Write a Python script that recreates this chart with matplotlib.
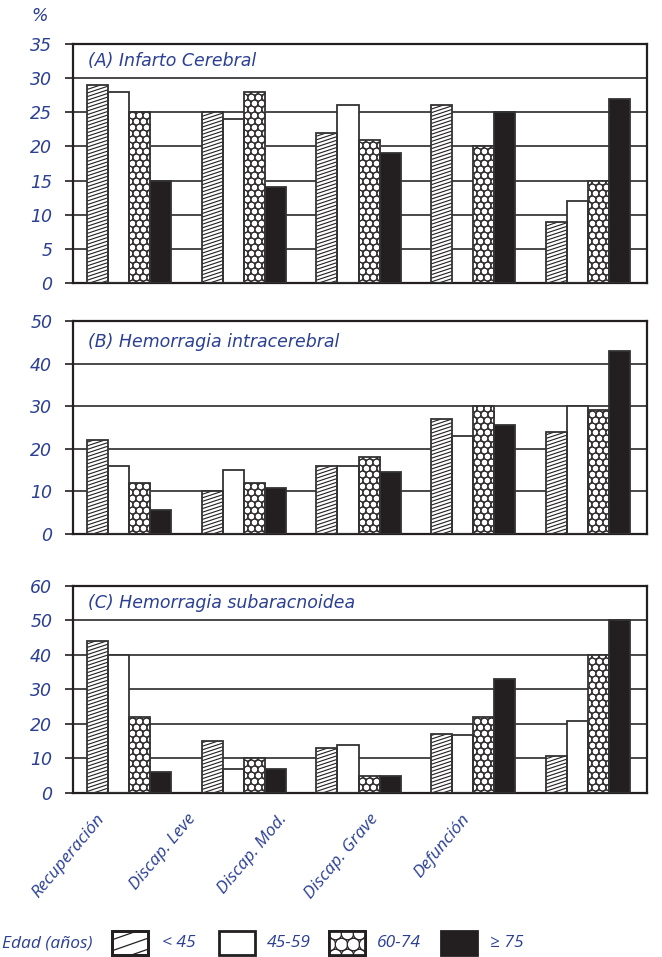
import numpy as np
import matplotlib
matplotlib.use("Agg")
import matplotlib.pyplot as plt
from matplotlib.collections import LineCollection, CircleCollection
from matplotlib.transforms import IdentityTransform, blended_transform_factory
from matplotlib.patches import Rectangle

# ---------------- data ----------------
categories = ["Recuperación", "Discap. Leve", "Discap. Mod.", "Discap. Grave", "Defunción"]
age_groups = ["< 45", "45-59", "60-74", "≥ 75"]
legend_title = "Edad (años)"
panel_titles = ["(A) Infarto Cerebral", "(B) Hemorragia intracerebral",
                "(C) Hemorragia subaracnoidea"]

# (A) Infarto cerebral, % per age group
infarto_lt45 = [29, 25, 22, 26, 9]
infarto_45_59 = [28, 24, 26, np.nan, 12]
infarto_60_74 = [25, 28, 21, 20, 15]
infarto_ge75 = [15, 14, 19, 25, 27]

# (B) Hemorragia intracerebral
hic_lt45 = [22, 10, 16, 27, 24]
hic_45_59 = [16, 15, 16, 23, 30]
hic_60_74 = [12, 12, 18, 30, 29]
hic_ge75 = [5.6, 10.7, 14.6, 25.7, 43]

# (C) Hemorragia subaracnoidea
hsa_lt45 = [44, 15, 13, 17, 10.7]
hsa_45_59 = [40, 7, 14, 16.8, 21]
hsa_60_74 = [22, 10, 5, 22, 40]
hsa_ge75 = [6, 7, 5, 33, 50]

y_max = [35, 50, 60]
y_step = [5, 10, 10]

panels = [
    [infarto_lt45, infarto_45_59, infarto_60_74, infarto_ge75],
    [hic_lt45, hic_45_59, hic_60_74, hic_ge75],
    [hsa_lt45, hsa_45_59, hsa_60_74, hsa_ge75],
]

# ---------------- style ----------------
BLUE = "#2b3f93"
INK = "#231f20"
plt.rcParams["font.family"] = ["Open Sans", "DejaVu Sans"]
plt.rcParams["font.style"] = "italic"
FS = 12.5
WIDE = ["DejaVu Sans"]
FS_WIDE = 12.5

DPI = 100
fig = plt.figure(figsize=(6.62, 9.57), dpi=DPI)

axes_rects = [
    [0.1103, 0.7043, 0.867, 0.2497],
    [0.1103, 0.4420, 0.867, 0.2226],
    [0.1103, 0.1714, 0.867, 0.2163],
]


def add_line_pattern(ax, patch, spacing, slope, lw, zorder):
    bb = patch.get_window_extent()
    x0, y0, x1, y1 = bb.extents
    if not np.all(np.isfinite([x0, y0, x1, y1])) or (y1 - y0) <= 0:
        return
    cmin = y0 - slope * x1
    cmax = y1 - slope * x0
    ks = np.arange(np.floor(cmin / spacing), np.ceil(cmax / spacing) + 1)
    segs = [[(x0, k * spacing + slope * x0), (x1, k * spacing + slope * x1)] for k in ks]
    lc = LineCollection(segs, colors=INK, linewidths=lw,
                        transform=IdentityTransform(), zorder=zorder)
    ax.add_collection(lc, autolim=False)
    lc.set_clip_path(patch)


def add_circle_pattern(ax, patch, ncols, row_h, diam_px, lw, zorder):
    bb = patch.get_window_extent()
    x0, y0, x1, y1 = bb.extents
    if not np.all(np.isfinite([x0, y0, x1, y1])) or (y1 - y0) <= 0:
        return
    sx = (x1 - x0) / ncols
    nrows = int(np.ceil((y1 - y0) / row_h)) + 2
    offs = []
    for r in range(nrows):
        y = y0 + r * row_h
        if r % 2 == 0:
            xs = x0 + sx * (np.arange(ncols) + 0.5)
        else:
            xs = x0 + sx * np.arange(ncols + 1)
        offs.extend([(xx, y) for xx in xs])
    d_pt = diam_px * 72.0 / DPI
    cc = CircleCollection(sizes=[np.pi * (d_pt / 2) ** 2], offsets=offs,
                          offset_transform=IdentityTransform(),
                          facecolors="white", edgecolors=INK, linewidths=lw,
                          zorder=zorder)
    cc.set_transform(IdentityTransform())
    ax.add_collection(cc, autolim=False)
    cc.set_clip_path(patch)


x = np.arange(len(categories))
bw = 0.183
shift = -0.013
faces = ["white", "white", "white", INK]

for pi, (rect, series) in enumerate(zip(axes_rects, panels)):
    ax = fig.add_axes(rect)
    ax.set_xlim(-0.5, len(categories) - 0.5)
    ax.set_ylim(0, y_max[pi])
    ax.set_yticks(np.arange(0, y_max[pi] + 1, y_step[pi]))
    ax.grid(axis="y", color="#2a2a2a", linewidth=1.2)
    ax.set_axisbelow(True)
    for s in ax.spines.values():
        s.set_color(INK)
        s.set_linewidth(1.6)
    ax.tick_params(axis="y", length=6, width=1.2, color=INK, pad=9,
                   labelsize=FS_WIDE, labelcolor=BLUE)
    for lab in ax.get_yticklabels():
        lab.set_fontfamily(WIDE)

    for si, vals in enumerate(series):
        pos = x + (si - 1.5) * bw + shift
        bars = ax.bar(pos, vals, width=bw, color=faces[si], edgecolor="none",
                      linewidth=0, zorder=2)
        if si == 0:
            for b in bars:
                add_line_pattern(ax, b, spacing=3.6, slope=0.33, lw=0.8, zorder=2.5)
        elif si == 2:
            for b in bars:
                add_circle_pattern(ax, b, ncols=3, row_h=6.0, diam_px=6.8, lw=0.8,
                                   zorder=2.5)
        ax.bar(pos, vals, width=bw, fill=False, edgecolor="#333333",
               linewidth=1.3, zorder=3)

    tr = blended_transform_factory(ax.transAxes, ax.transData)
    ax.text(0.026, y_max[pi] - y_step[pi] / 2, panel_titles[pi], transform=tr,
            ha="left", va="center", color=BLUE, fontsize=FS_WIDE, family=WIDE)

    if pi == len(panels) - 1:
        label_pos = np.arange(len(categories)) * 0.795 - 0.30
        ax.set_xticks(label_pos)
        ax.set_xticklabels(categories, rotation=50, ha="right", va="top",
                           rotation_mode="anchor", color=BLUE, fontsize=FS)
        ax.tick_params(axis="x", length=0, pad=13)
    else:
        ax.set_xticks([])

fig.text(40 / 662, 1 - 16 / 957, "%", ha="center", va="center", color=BLUE,
         fontsize=FS_WIDE, family=WIDE)

# ---------------- legend ----------------
lax = fig.add_axes([0, 0, 1, 1], zorder=-1)
lax.set_xlim(0, 662)
lax.set_ylim(957, 0)
lax.axis("off")
lax.text(2, 943, legend_title, ha="left", va="center", color=BLUE, fontsize=FS)
sw_x = [112, 219, 329, 441]
lab_x = [162, 267, 377, 490]
for i, lab in enumerate(age_groups):
    r = Rectangle((sw_x[i], 931), 36, 24, facecolor=faces[i], edgecolor=INK,
                  linewidth=2.0, zorder=2)
    lax.add_patch(r)
    if i == 0:
        add_line_pattern(lax, r, spacing=11, slope=0.35, lw=0.9, zorder=2.5)
    elif i == 2:
        add_circle_pattern(lax, r, ncols=3, row_h=11, diam_px=12.5, lw=0.9,
                           zorder=2.5)
    if i in (0, 2):
        lax.add_patch(Rectangle((sw_x[i], 931), 36, 24, fill=False,
                                edgecolor=INK, linewidth=2.0, zorder=3))
    lax.text(lab_x[i], 943, lab, ha="left", va="center", color=BLUE, fontsize=FS)

fig.savefig("out.png", dpi=DPI)
